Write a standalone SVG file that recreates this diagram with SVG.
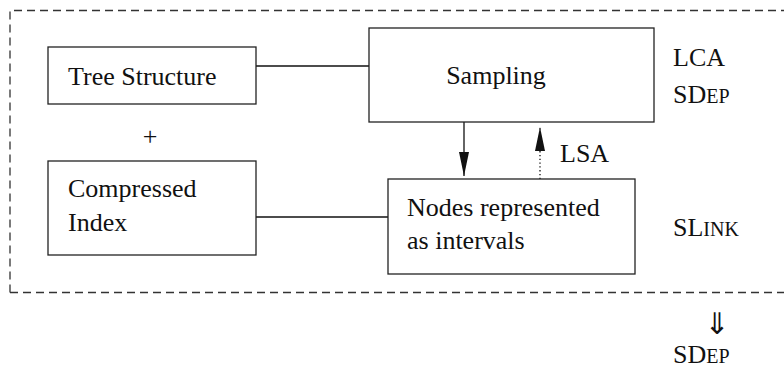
<svg xmlns="http://www.w3.org/2000/svg" width="784" height="370" viewBox="0 0 784 370">
<style>
.box{fill:#fff;stroke:#222;stroke-width:1.3}
.ln{stroke:#111;stroke-width:1.3;fill:none}
text{font-family:'Liberation Serif','DejaVu Serif','Noto Serif','Times New Roman',Times,serif;font-size:26px;fill:#111}
.sc{font-size:20px}
.ar{font-family:'DejaVu Sans','Liberation Serif',sans-serif;font-size:30px}
</style>
<defs>
<marker id="ah2" viewBox="0 0 24 10" refX="24" refY="5" markerWidth="24" markerHeight="10" markerUnits="userSpaceOnUse" orient="auto">
<path d="M0,0 L24,5 L0,10 Z" fill="#111"/>
</marker>
</defs>
<g id="frame">
<path d="M10,292.5 L10,10.5 L784,10.5 M10,292.5 L784,292.5" fill="none" stroke="#333" stroke-width="1.3" stroke-dasharray="8,5"/>
</g>
<g id="connectors">
<line class="ln" x1="256" y1="66" x2="369" y2="66"/>
<line class="ln" x1="256" y1="217" x2="388" y2="217"/>
<line class="ln" x1="464" y1="122" x2="464" y2="176" marker-end="url(#ah2)"/>
<line class="ln" x1="540" y1="179" x2="540" y2="127" stroke-dasharray="1.3,2.5" stroke-width="1.2" marker-end="url(#ah2)"/>
</g>
<g id="tree">
<rect class="box" x="48" y="47" width="208" height="57"/>
<text x="68" y="85">Tree Structure</text>
</g>
<g id="plus"><text x="150" y="145" text-anchor="middle">+</text></g>
<g id="index">
<rect class="box" x="48" y="161" width="208" height="94"/>
<text x="68" y="197">Compressed</text>
<text x="68" y="231">Index</text>
</g>
<g id="sampling">
<rect class="box" x="369" y="28" width="285" height="94"/>
<text x="496" y="84" text-anchor="middle">Sampling</text>
</g>
<g id="nodes">
<rect class="box" x="388" y="179" width="247" height="95"/>
<text x="407" y="216">Nodes represented</text>
<text x="407" y="249">as intervals</text>
</g>
<g id="labels">
<text x="673" y="66">LCA</text>
<text x="673" y="103">SD<tspan class="sc">EP</tspan></text>
<text x="560" y="162">LSA</text>
<text x="673" y="236">SL<tspan class="sc">INK</tspan></text>
<text class="ar" x="717" y="334" text-anchor="middle">⇓</text>
<text x="673" y="363">SD<tspan class="sc">EP</tspan></text>
</g>
</svg>
